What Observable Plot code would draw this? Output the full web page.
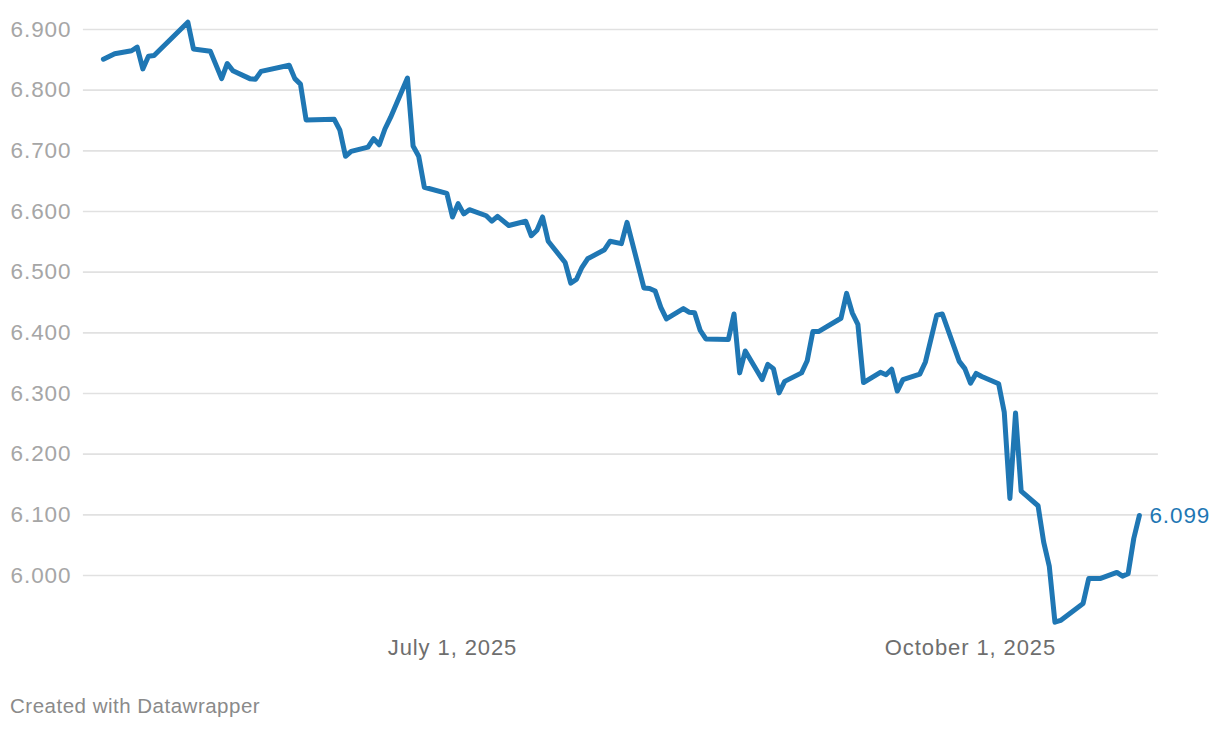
<!DOCTYPE html>
<html>
<head>
<meta charset="utf-8">
<script src="https://cdn.jsdelivr.net/npm/d3@7"></script>
<script src="https://cdn.jsdelivr.net/npm/@observablehq/plot@0.6"></script>
<style>
  html, body { margin: 0; padding: 0; background: #fff; }
  #wrap { position: relative; width: 1220px; height: 730px; font-family: "Liberation Sans", Arial, sans-serif; }
  #footer { position: absolute; left: 10px; top: 694px; font-size: 20.5px; color: #8a8a8a; letter-spacing: 0.5px; }
</style>
</head>
<body>
<div id="wrap"><div id="chart"></div><div id="footer">Created with Datawrapper</div></div>
<script>
const dates = [
  "2025-04-30","2025-05-02","2025-05-05","2025-05-06","2025-05-07","2025-05-08","2025-05-09",
  "2025-05-15","2025-05-16","2025-05-19","2025-05-21","2025-05-22","2025-05-23","2025-05-26",
  "2025-05-27","2025-05-28","2025-06-02","2025-06-03","2025-06-04","2025-06-05","2025-06-10",
  "2025-06-11","2025-06-12","2025-06-13","2025-06-16","2025-06-17","2025-06-18","2025-06-19",
  "2025-06-20","2025-06-23","2025-06-24","2025-06-25","2025-06-26","2025-06-30","2025-07-01",
  "2025-07-02","2025-07-03","2025-07-04","2025-07-07","2025-07-08","2025-07-09","2025-07-11",
  "2025-07-14","2025-07-15","2025-07-16","2025-07-17","2025-07-18","2025-07-21","2025-07-22",
  "2025-07-23","2025-07-24","2025-07-25","2025-07-28","2025-07-29","2025-07-31","2025-08-01",
  "2025-08-04","2025-08-05","2025-08-06","2025-08-07","2025-08-08","2025-08-11","2025-08-12",
  "2025-08-13","2025-08-14","2025-08-15","2025-08-19","2025-08-20","2025-08-21","2025-08-22",
  "2025-08-25","2025-08-26","2025-08-27","2025-08-28","2025-08-29","2025-09-01","2025-09-02",
  "2025-09-03","2025-09-04","2025-09-08","2025-09-09","2025-09-10","2025-09-11","2025-09-12",
  "2025-09-15","2025-09-16","2025-09-17","2025-09-18","2025-09-19","2025-09-22","2025-09-23",
  "2025-09-25","2025-09-26","2025-09-29","2025-09-30","2025-10-01","2025-10-02","2025-10-03",
  "2025-10-06","2025-10-07","2025-10-08","2025-10-09","2025-10-10","2025-10-13","2025-10-14",
  "2025-10-15","2025-10-16","2025-10-17","2025-10-21","2025-10-22","2025-10-24","2025-10-27",
  "2025-10-28","2025-10-29","2025-10-30","2025-10-31"
];
const values = [
  6.851,6.860,6.865,6.871,6.835,6.856,6.857,
  6.912,6.868,6.864,6.819,6.844,6.832,6.819,
  6.818,6.831,6.841,6.819,6.810,6.751,6.752,
  6.734,6.691,6.699,6.706,6.720,6.710,6.736,
  6.755,6.820,6.708,6.691,6.640,6.630,6.591,
  6.613,6.596,6.603,6.593,6.584,6.592,6.577,
  6.584,6.560,6.569,6.591,6.551,6.516,6.482,
  6.488,6.508,6.522,6.537,6.551,6.547,6.582,
  6.474,6.473,6.469,6.442,6.423,6.440,6.434,
  6.433,6.404,6.390,6.389,6.431,6.334,6.370,
  6.323,6.348,6.341,6.301,6.320,6.334,6.354,
  6.402,6.402,6.424,6.465,6.433,6.414,6.318,
  6.335,6.331,6.340,6.304,6.323,6.332,6.352,
  6.429,6.431,6.353,6.341,6.317,6.333,6.328,
  6.316,6.269,6.127,6.268,6.139,6.115,6.055,
  6.015,5.923,5.926,5.954,5.995,5.995,6.005,
  5.999,6.003,6.061,6.099
];
const yTicks = [6.0, 6.1, 6.2, 6.3, 6.4, 6.5, 6.6, 6.7, 6.8, 6.9];
const xTicks = ["2025-07-01", "2025-10-01"];

const data = dates.map((d, i) => ({date: new Date(d + "T00:00:00Z"), value: values[i]}));
const last = data[data.length - 1];
const blue = "#1f77b4";

const chart = Plot.plot({
  width: 1220,
  height: 670,
  marginTop: 29,
  marginBottom: 95,
  marginLeft: 102.9,
  marginRight: 81.1,
  style: {fontFamily: "Liberation Sans, Arial, sans-serif", background: "#fff", overflow: "visible"},
  x: {type: "utc", domain: [data[0].date, last.date]},
  y: {domain: [6.0, 6.9]},
  marks: [
    Plot.ruleY(yTicks, {stroke: "#e1e1e1", strokeWidth: 1.6, insetLeft: -20, insetRight: -19}),
    Plot.axisY(yTicks, {tickSize: 0, tickPadding: 32, fontSize: 22.5, color: "#a6a6a6", tickFormat: d3.format(".3f"), label: null}),
    Plot.axisX(xTicks.map(d => new Date(d + "T00:00:00Z")), {tickSize: 0, tickPadding: 64, fontSize: 22, color: "#6e6e6e", tickFormat: d3.utcFormat("%B %-d, %Y"), label: null}),
    Plot.line(data, {x: "date", y: "value", stroke: blue, strokeWidth: 5, strokeLinejoin: "round", strokeLinecap: "round"}),
    Plot.text([last], {x: "date", y: "value", text: d => d3.format(".3f")(d.value), dx: 10, textAnchor: "start", fill: blue, fontSize: 22.5})
  ]
});
d3.select(chart).selectAll("text").style("letter-spacing", "0.9px");
document.getElementById("chart").appendChild(chart);
</script>
</body>
</html>
